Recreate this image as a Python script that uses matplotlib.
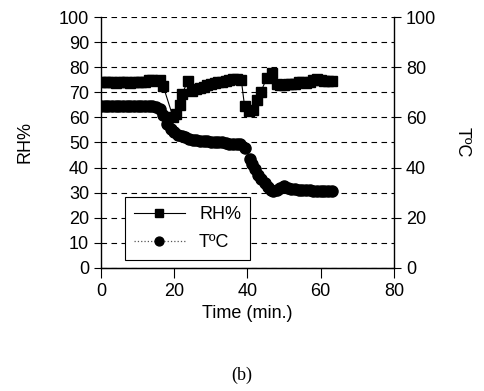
import matplotlib
matplotlib.use("Agg")
import matplotlib.pyplot as plt

# ---- data ----
time_rh = [0, 1, 2, 3, 4, 5, 6, 7, 8, 9, 10, 11, 12, 13, 14, 15, 16, 17,
           19.7, 20.6, 21.6, 22.2, 23.7, 24.9, 26, 27, 28, 29, 30, 31, 32, 33,
           34, 35, 36, 37, 38.3, 39.2, 40.4, 41.4, 42.6, 43.6, 45.2, 46.7,
           48, 49, 50, 51, 52, 53, 54, 55, 56, 57, 58, 59, 60, 61, 62, 63]
rh = [74, 74, 74.2, 74, 73.8, 74, 74, 74, 73.8, 74, 74, 74, 74.3, 75, 75,
      74.6, 75, 72.4,
      60, 61.5, 65, 69.5, 74.5, 70.5, 71.3, 71.8, 72.3, 72.8, 73.3, 73.7,
      74, 74.3, 74.6, 75, 75.3, 75.3, 75, 64.5, 62.5, 63, 67, 70, 75.5, 77.5,
      73.5, 73, 73, 73.3, 73.5, 73.5, 74, 74, 73.8, 74, 75, 75.3, 75, 74.5,
      74.5, 74.5]

time_t = [0, 1, 2, 3, 4, 5, 6, 7, 8, 9, 10, 11, 12, 13, 14, 15, 16, 17, 18,
          19, 20, 21, 22, 23, 24, 25, 26, 27, 28, 29, 30, 31, 32, 33, 34, 35,
          36, 37, 38, 39.3, 40.6, 41.3, 42, 43, 43.8, 44.7, 45.6, 46.3, 47,
          48, 49, 50, 51, 52, 53, 54, 55, 56, 57, 58, 59, 60, 61, 62, 63]
temp = [64.5, 64.5, 64.5, 64.5, 64.5, 64.5, 64.5, 64.5, 64.5, 64.5, 64.5,
        64.5, 64.5, 64.5, 64.5, 64.3, 63.5, 61, 57.5, 55.5, 54, 53, 52.5, 52,
        51.5, 51, 50.8, 50.6, 50.5, 50.4, 50.3, 50.2, 50, 50, 49.8, 49.6,
        49.5, 49.4, 49.3, 47.9, 43.4, 41.5, 39.4, 37.2, 35.4, 33.8, 32.3,
        31.2, 30.5, 31, 32, 32.5, 32, 31.5, 31.3, 31.2, 31, 31, 30.9, 30.8,
        30.8, 30.8, 30.8, 30.8, 30.8]

x_ticks = [0, 20, 40, 60, 80]
left_ticks = [0, 10, 20, 30, 40, 50, 60, 70, 80, 90, 100]
right_ticks = [0, 20, 40, 60, 80, 100]

plt.rcParams['font.family'] = ['Liberation Sans', 'DejaVu Sans']
fs = 13

fig = plt.figure(figsize=(4.84, 3.91), dpi=100)
ax = fig.add_axes([0.2087, 0.3146, 0.6053, 0.6419])
ax2 = ax.twinx()

l1, = ax.plot(time_rh, rh, color='black', lw=0.8, marker='s', ms=7.5,
              mfc='black', mec='black', label='RH%')
l2, = ax2.plot(time_t, temp, color='#555555', lw=0.9, ls=':', marker='o',
               ms=8, mfc='black', mec='black', label='TºC')

ax.set_xlim(0, 80)
ax.set_ylim(0, 100)
ax2.set_ylim(0, 100)
ax.set_xticks(x_ticks)
ax.set_yticks(left_ticks)
ax2.set_yticks(right_ticks)

for y in left_ticks:
    ax.axhline(y, color='black', lw=0.8, ls=(0, (5, 4)), zorder=0)

for a in (ax, ax2):
    a.spines['top'].set_visible(False)
    a.tick_params(labelsize=fs, direction='out', length=5, width=0.8,
                  colors='black')
ax.tick_params(axis='x', length=7)
ax2.spines['left'].set_visible(False)
ax.spines['right'].set_visible(False)
ax2.spines['right'].set_linewidth(1.0)
ax.spines['left'].set_linewidth(1.0)
ax.spines['bottom'].set_linewidth(1.0)

ax.set_xlabel('Time (min.)', fontsize=fs, labelpad=4)
ax.set_ylabel('RH%', fontsize=fs, labelpad=18)
ax2.set_ylabel('TºC', fontsize=fs, rotation=270, labelpad=25)

leg = ax.legend(handles=[l1, l2], loc='lower left',
                bbox_to_anchor=(0.082, 0.032), borderaxespad=0,
                fontsize=fs, frameon=True,
                fancybox=False, edgecolor='black', framealpha=1,
                handlelength=2.8, markerscale=0.8, borderpad=0.5,
                labelspacing=0.6)
leg.get_frame().set_linewidth(0.8)

fig.text(0.5, 0.04, '(b)', ha='center', va='center', fontsize=13,
         family=['Liberation Serif', 'DejaVu Serif'])

fig.savefig('out.png', dpi=100)
